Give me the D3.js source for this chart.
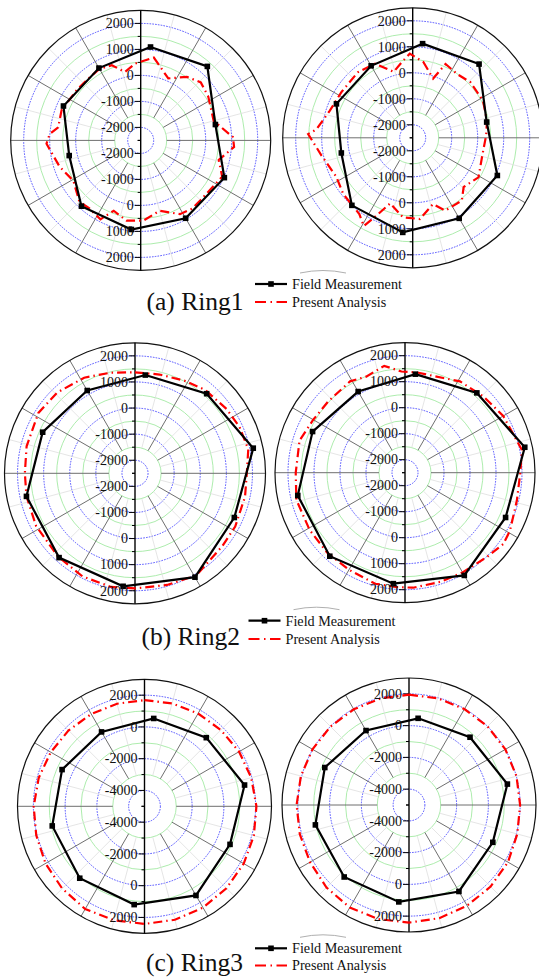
<!DOCTYPE html>
<html>
<head>
<meta charset="utf-8">
<script src="https://cdn.jsdelivr.net/npm/d3@7"></script>
<style>
  html, body { margin: 0; padding: 0; background: #fff; }
  svg { display: block; }
  svg text { font-family: "Liberation Serif", "Times New Roman", "DejaVu Serif", serif; }
</style>
</head>
<body>
<svg id="chart" width="539" height="980"></svg>
<script>
// Measurement stations around the ring (degrees, clockwise from crown)
const stationAngles = [6, 42, 78, 114, 150, 186, 222, 258, 294, 330];

// Field measurement values at each station
const ring1LeftField  = [1112, 1330, 437, 1022, 958, 945, 906, 311, 752, 713];
const ring1RightField = [1141, 1315, 409, 1064, 1077, 1158, 996, 306, 711, 697];
const ring2LeftField  = [1285, 1604, 2132, 1665, 2096, 1853, 1847, 1752, 1372, 1162];
const ring2RightField = [1311, 1630, 2210, 1735, 2062, 1791, 1823, 1716, 1391, 1104];
const ring3LeftField  = [564, 817, 1443, 897, 1485, 1227, 1096, 941, 684, 411];
const ring3RightField = [491, 745, 1336, 779, 1290, 1138, 1102, 1029, 806, 415];

// Present analysis curves (angle in degrees, value)
const ring1LeftAnalysisAngles = [9, 24, 36, 46, 57, 75, 88, 94, 104, 114, 135, 143, 152, 165, 178, 190, 201, 207, 217, 225, 239, 252, 268, 274, 279, 291, 308, 320, 330, 339, 347, 356];
const ring1LeftAnalysis       = [726, 109, 520, 713, 598, 405, 1050, 1100, 593, 932, 752, 790, 713, 302, 585, 635, 398, 906, 778, 835, 520, 778, 1125, 1009, 713, 758, 631, 618, 675, 598, 200, 464];

const ring1RightAnalysisAngles = [8, 19, 24, 35, 46, 62, 77, 88, 102, 121, 134, 142, 156, 163, 175, 187, 199, 205, 209, 215, 231, 243, 259, 272, 275, 288, 303, 320, 333, 344, 352, 358];
const ring1RightAnalysis       = [443, -90, 607, 488, 581, 559, 431, 328, 256, 451, 225, 567, 567, 167, 636, 580, 167, 801, 1379, 1080, 937, 800, 1073, 1523, 1218, 857, 756, 787, 700, 140, 449, 739];

const ring2LeftAnalysisAngles = [0, 14, 28, 40, 55, 66, 78, 90, 102, 118, 130, 149, 164, 180, 192, 207, 223, 242, 258, 270, 284, 302, 316, 332, 346];
const ring2LeftAnalysis       = [1370, 1400, 1520, 1675, 1790, 1880, 1937, 1784, 1810, 1848, 1856, 2061, 1950, 1912, 1950, 1932, 1844, 1792, 1752, 1720, 1780, 1865, 1797, 1648, 1470];

const ring2RightAnalysisAngles = [7, 22, 31, 46, 60, 79, 90, 104, 119, 126, 136, 150, 162, 176, 184, 195, 210, 224, 239, 256, 270, 287, 300, 313, 329, 338, 349, 358];
const ring2RightAnalysis       = [1382, 1427, 1600, 1708, 1864, 2082, 1934, 1934, 2114, 2170, 2018, 1930, 1914, 1934, 1909, 1922, 1811, 1792, 1779, 1806, 1703, 1741, 1575, 1530, 1600, 1485, 1685, 1395];

const ring3AnalysisAngles = [0, 15, 30, 45, 60, 75, 90, 105, 120, 135, 150, 165, 180, 195, 210, 225, 240, 255, 270, 285, 300, 315, 330, 345];
const ring3LeftAnalysis   = [1690, 1710, 1750, 1800, 1880, 1960, 2050, 2130, 2220, 2300, 2370, 2400, 2410, 2430, 2470, 2330, 2200, 2060, 1980, 1900, 1820, 1760, 1710, 1690];
const ring3RightAnalysis  = [1950, 1960, 1980, 2000, 2010, 2010, 2000, 2060, 2200, 2270, 2320, 2380, 2410, 2440, 2460, 2350, 2200, 2120, 2080, 2050, 2020, 1990, 1960, 1950];

// Radial axes
const ring12Domain = [-2500, 2500];
const ring12Ticks  = [-2000, -1000, 0, 1000, 2000];
const ring3Domain  = [-5000, 3000];
const ring3Ticks   = [-4000, -2000, 0, 2000];

const captions     = ["(a) Ring1", "(b) Ring2", "(c) Ring3"];
const legendLabels = ["Field Measurement", "Present Analysis"];

const FONT = "'Liberation Serif', 'Times New Roman', 'DejaVu Serif', serif";

const svg = d3.select("#chart");
svg.append("rect").attr("width", 539).attr("height", 980).attr("fill", "#fff");

const rad = d => d * Math.PI / 180;

const panels = [
  {cx: 140.7, cy: 140.4, R: 130,   domain: ring12Domain, ticks: ring12Ticks, step: 500,
   field: ring1LeftField,  aAng: ring1LeftAnalysisAngles,  aVal: ring1LeftAnalysis},
  {cx: 412.7, cy: 137.8, R: 130,   domain: ring12Domain, ticks: ring12Ticks, step: 500,
   field: ring1RightField, aAng: ring1RightAnalysisAngles, aVal: ring1RightAnalysis},
  {cx: 135.0, cy: 473.3, R: 130.5, domain: ring12Domain, ticks: ring12Ticks, step: 500,
   field: ring2LeftField,  aAng: ring2LeftAnalysisAngles,  aVal: ring2LeftAnalysis},
  {cx: 405.0, cy: 472.7, R: 130,   domain: ring12Domain, ticks: ring12Ticks, step: 500,
   field: ring2RightField, aAng: ring2RightAnalysisAngles, aVal: ring2RightAnalysis},
  {cx: 144.5, cy: 806.3, R: 127,   domain: ring3Domain,  ticks: ring3Ticks,  step: 1000,
   field: ring3LeftField,  aAng: ring3AnalysisAngles,      aVal: ring3LeftAnalysis},
  {cx: 409.0, cy: 805.0, R: 127,   domain: ring3Domain,  ticks: ring3Ticks,  step: 1000,
   field: ring3RightField, aAng: ring3AnalysisAngles,      aVal: ring3RightAnalysis}
];

function drawPanel(p) {
  const g = svg.append("g").attr("transform", `translate(${p.cx},${p.cy})`);
  const r = d3.scaleLinear().domain(p.domain).range([0, p.R]);
  const majorStep = p.step * 2;
  const isMajor = d => Math.abs(d) % majorStep === 0;

  // concentric grid circles: blue dotted on major values, light green between
  const gridVals = d3.range(p.domain[0] + p.step, p.domain[1] - p.step / 2, p.step);
  g.selectAll("circle.grid").data(gridVals).join("circle")
    .attr("r", d => r(d))
    .attr("fill", "none")
    .attr("stroke", d => isMajor(d) ? "#3434ff" : "#a4eaa4")
    .attr("stroke-width", d => isMajor(d) ? 0.85 : 0.9)
    .attr("stroke-dasharray", d => isMajor(d) ? "1.6,1.2" : null);

  // spokes: every 15 degrees, darker every 30
  const r0 = r(p.domain[0] + 2 * p.step);
  const spokes = d3.range(0, 360, 15).filter(a => a !== 0 && a !== 180);
  g.selectAll("line.spoke").data(spokes).join("line")
    .attr("x1", a => r0 * Math.sin(rad(a)))
    .attr("y1", a => -r0 * Math.cos(rad(a)))
    .attr("x2", a => p.R * Math.sin(rad(a)))
    .attr("y2", a => -p.R * Math.cos(rad(a)))
    .attr("stroke", a => a % 30 === 0 ? "#6f6f6f" : "#dedede")
    .attr("stroke-width", a => a % 30 === 0 ? 1 : 0.8);

  // outer boundary
  g.append("circle").attr("r", p.R).attr("fill", "none")
    .attr("stroke", "#111").attr("stroke-width", 1.2);

  // vertical radial axis through the centre
  g.append("line").attr("x1", 0).attr("x2", 0).attr("y1", -p.R).attr("y2", p.R)
    .attr("stroke", "#000").attr("stroke-width", 1.4);

  // axis ticks (major at labels, minor between)
  const minorVals = d3.range(p.domain[0], p.domain[1], p.step).filter(v => !p.ticks.includes(v));
  [-1, 1].forEach(side => {
    g.selectAll(null).data(p.ticks).join("line")
      .attr("x1", -6).attr("x2", 0)
      .attr("y1", d => side * r(d)).attr("y2", d => side * r(d))
      .attr("stroke", "#000").attr("stroke-width", 1);
    g.selectAll(null).data(minorVals).join("line")
      .attr("x1", -3).attr("x2", 0)
      .attr("y1", d => side * r(d)).attr("y2", d => side * r(d))
      .attr("stroke", "#000").attr("stroke-width", 1);
  });

  // present analysis (red dash-dot)
  const radial = d3.lineRadial().angle(d => d[0]).radius(d => d[1]).curve(d3.curveLinearClosed);
  const aPts = p.aAng.map((a, i) => [rad(a), r(p.aVal[i])]);
  g.append("path").attr("d", radial(aPts))
    .attr("fill", "none").attr("stroke", "#ff0000").attr("stroke-width", 2.2)
    .attr("stroke-dasharray", "9,4,1.5,4");

  // field measurement (black with square markers)
  const fPts = stationAngles.map((a, i) => [rad(a), r(p.field[i])]);
  g.append("path").attr("d", radial(fPts))
    .attr("fill", "none").attr("stroke", "#000").attr("stroke-width", 2.2);
  g.selectAll("rect.mk").data(fPts).join("rect")
    .attr("x", d => d[1] * Math.sin(d[0]) - 2.8)
    .attr("y", d => -d[1] * Math.cos(d[0]) - 2.8)
    .attr("width", 5.6).attr("height", 5.6).attr("fill", "#000");

  // radial axis labels, upper and lower halves
  [-1, 1].forEach(side => {
    g.selectAll(null).data(p.ticks).join("text")
      .attr("x", -7).attr("y", d => side * r(d))
      .attr("dy", "0.34em")
      .attr("text-anchor", "end")
      .attr("font-family", FONT)
      .attr("font-size", 14).attr("fill", "#111")
      .text(d => String(d));
  });
}

panels.forEach(drawPanel);

// captions and legends
const rows = [
  {capX: 146.5, capY: 309.5, lx: 255,   ly: 284,   ly2: 302},
  {capX: 141.5, capY: 645,   lx: 248.5, ly: 620.7, ly2: 639},
  {capX: 146,   capY: 970.5, lx: 255,   ly: 948.3, ly2: 965.5}
];
rows.forEach((row, i) => {
  // faint legend frame remnant
  svg.append("path")
    .attr("d", `M${row.lx + 45},${row.ly - 11} Q${row.lx + 68},${row.ly - 16} ${row.lx + 91},${row.ly - 11}`)
    .attr("fill", "none").attr("stroke", "#9a9a9a").attr("stroke-width", 0.8);

  svg.append("text").attr("x", row.capX).attr("y", row.capY)
    .attr("font-family", FONT)
    .attr("font-size", 25.5).attr("fill", "#111").text(captions[i]);

  const lg = svg.append("g");
  lg.append("line").attr("x1", row.lx).attr("x2", row.lx + 32)
    .attr("y1", row.ly).attr("y2", row.ly).attr("stroke", "#000").attr("stroke-width", 2.2);
  lg.append("rect").attr("x", row.lx + 13.2).attr("y", row.ly - 2.8)
    .attr("width", 5.6).attr("height", 5.6).attr("fill", "#000");
  lg.append("line").attr("x1", row.lx).attr("x2", row.lx + 32)
    .attr("y1", row.ly2).attr("y2", row.ly2).attr("stroke", "#ff0000").attr("stroke-width", 2.2)
    .attr("stroke-dasharray", "11,4.5,1.5,4.5");
  lg.append("text").attr("x", row.lx + 37).attr("y", row.ly).attr("dy", "0.34em")
    .attr("font-family", FONT)
    .attr("font-size", 14.2).attr("fill", "#111").text(legendLabels[0]);
  lg.append("text").attr("x", row.lx + 37).attr("y", row.ly2).attr("dy", "0.34em")
    .attr("font-family", FONT)
    .attr("font-size", 14.2).attr("fill", "#111").text(legendLabels[1]);
});
</script>
</body>
</html>
